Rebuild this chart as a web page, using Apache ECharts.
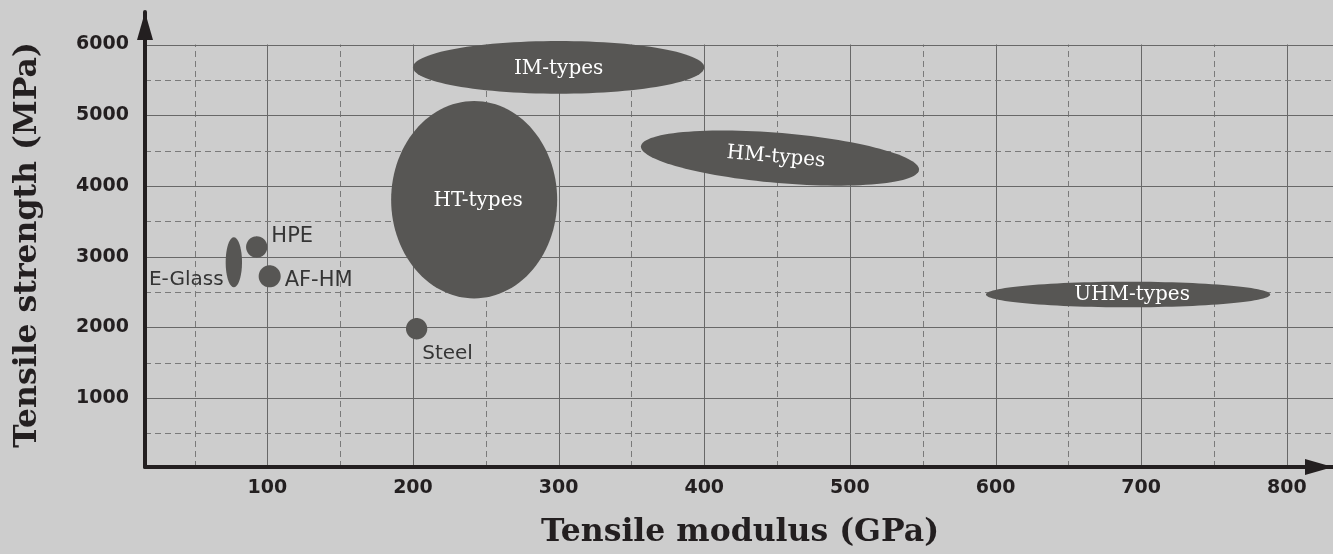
<!DOCTYPE html>
<html>
<head>
<meta charset="utf-8">
<script src="https://cdn.jsdelivr.net/npm/echarts@6/dist/echarts.min.js"></script>
<style>
html,body{margin:0;padding:0;background:#cdcdcd;}
#chart{width:1333px;height:554px;}
</style>
</head>
<body>
<div id="chart"></div>
<script>
// ---- data ----
const materials       = ['IM-types','HT-types','HM-types','UHM-types','E-Glass','HPE','AF-HM','Steel'];
const modulusCenter   = [300, 242, 452, 691, 77, 92.7, 101.6, 202.5];   // GPa
const strengthCenter  = [5677, 3805, 4394, 2464, 2920, 3136, 2721, 1980]; // MPa
const modulusHalf     = [100, 57, 95.8, 97.6, 5.6, 7.3, 7.55, 7.3];      // GPa
const strengthHalf    = [373, 1396, 354, 181, 353, 151, 156, 151];       // MPa
const tiltDeg         = [0, 0, 4.85, 0, 0, 0, 0, 0];
const xTickLabels     = [100, 200, 300, 400, 500, 600, 700, 800];
const yTickLabels     = [1000, 2000, 3000, 4000, 5000, 6000];
const xMinorGrid      = [50, 150, 250, 350, 450, 550, 650, 750];
const yMinorGrid      = [500, 1500, 2500, 3500, 4500, 5500];

// ---- styles ----
const labelStyle = {
  'IM-types':  {color:'#ffffff', font:'20px "DejaVu Serif"', align:'center', anchor:'center', dx:0,  dy:1},
  'HT-types':  {color:'#ffffff', font:'20px "DejaVu Serif"', align:'center', anchor:'center', dx:4,  dy:1},
  'HM-types':  {color:'#ffffff', font:'20px "DejaVu Serif"', align:'center', anchor:'center', dx:-4, dy:-1, rotate:true},
  'UHM-types': {color:'#ffffff', font:'20px "DejaVu Serif"', align:'center', anchor:'center', dx:4,  dy:0.5},
  'E-Glass':   {color:'#353535', font:'20px "DejaVu Sans"', align:'right', anchor:'left',  dx:-2, dy:18},
  'HPE':       {color:'#353535', font:'21px "DejaVu Sans"', align:'left',  anchor:'right', dx:4,  dy:-10},
  'AF-HM':     {color:'#353535', font:'21px "DejaVu Sans"', align:'left',  anchor:'right', dx:4,  dy:4},
  'Steel':     {color:'#353535', font:'20px "DejaVu Sans"', align:'left',  anchor:'center', dx:5.6, dy:24.6}
};
const SHAPE_FILL = '#575654';
const X_MIN = 16, X_MAX = 831.7, Y_MIN = 24, Y_MAX = 6460, GRID_TOP_VALUE = 6000;

const chart = echarts.init(document.getElementById('chart'));

const gridData = [];
xTickLabels.forEach(v => gridData.push({value:[v, 0], kind:'v', dash:false}));
xMinorGrid.forEach(v => gridData.push({value:[v, 0], kind:'v', dash:true}));
yTickLabels.forEach(v => gridData.push({value:[0, v], kind:'h', dash:false}));
yMinorGrid.forEach(v => gridData.push({value:[0, v], kind:'h', dash:true}));

const shapeData = materials.map((m, i) => ({
  name: m,
  value: [modulusCenter[i], strengthCenter[i], modulusHalf[i], strengthHalf[i], tiltDeg[i]]
}));

const axisLineStyle = {color:'#231f20', width:4};
const plain = v => String(v);

chart.setOption({
  backgroundColor:'#cdcdcd',
  animation:false,
  grid:{left:145, right:0, top:12, bottom:87},
  xAxis:{
    type:'value', min:X_MIN, max:X_MAX, z:10,
    axisLine:{show:true, lineStyle:axisLineStyle, symbol:['none','triangle'], symbolSize:[16,28], symbolOffset:[0,-14]},
    axisTick:{show:false},
    splitLine:{show:false},
    axisLabel:{customValues:xTickLabels, formatter:plain, margin:12, color:'#231f20', fontFamily:'DejaVu Sans', fontWeight:'bold', fontSize:19}
  },
  yAxis:{
    type:'value', min:Y_MIN, max:Y_MAX, z:10,
    axisLine:{show:true, lineStyle:axisLineStyle, symbol:['none','triangle'], symbolSize:[16,28], symbolOffset:[0,-14]},
    axisTick:{show:false},
    splitLine:{show:false},
    axisLabel:{customValues:yTickLabels, formatter:plain, margin:16, color:'#231f20', fontFamily:'DejaVu Sans', fontWeight:'bold', fontSize:19}
  },
  graphic:[
    {type:'text', x:740, y:533, z:20,
     style:{text:'Tensile modulus (GPa)', fill:'#231f20', font:'bold 31.5px "DejaVu Serif"', align:'center', verticalAlign:'middle'}},
    {type:'text', x:28, y:245, rotation:Math.PI/2, z:20,
     style:{text:'Tensile strength (MPa)', fill:'#231f20', font:'bold 31.5px "DejaVu Serif"', align:'center', verticalAlign:'middle'}}
  ],
  series:[
    {
      type:'custom', coordinateSystem:'cartesian2d', z:1, clip:false, silent:true,
      data:gridData,
      renderItem:function(params, api){
        const item = gridData[params.dataIndex];
        const style = {stroke: item.dash ? '#7a7a7a' : '#686868', lineWidth:1, lineDash: item.dash ? [6,4] : null};
        if (item.kind === 'v') {
          const p0 = api.coord([api.value(0), Y_MIN]);
          const p1 = api.coord([api.value(0), GRID_TOP_VALUE]);
          const x = Math.round(p0[0]) + 0.5;
          return {type:'line', shape:{x1:x, y1:p0[1], x2:x, y2:p1[1]}, style:style};
        } else {
          const p0 = api.coord([X_MIN, api.value(1)]);
          const p1 = api.coord([X_MAX, api.value(1)]);
          const y = Math.round(p0[1]) + 0.5;
          return {type:'line', shape:{x1:p0[0], y1:y, x2:p1[0], y2:y}, style:style};
        }
      }
    },
    {
      type:'custom', coordinateSystem:'cartesian2d', z:3, clip:false, silent:true,
      data:shapeData,
      renderItem:function(params, api){
        const name = materials[params.dataIndex];
        const cx = api.value(0), cy = api.value(1), hx = api.value(2), hy = api.value(3), tilt = api.value(4);
        const c = api.coord([cx, cy]);
        const a = Math.abs(api.coord([cx + hx, cy])[0] - c[0]);
        const b = Math.abs(api.coord([cx, cy + hy])[1] - c[1]);
        const th = tilt * Math.PI / 180;
        const pts = [];
        const N = 120;
        for (let k = 0; k < N; k++) {
          const t = 2 * Math.PI * k / N;
          const ex = a * Math.cos(t), ey = b * Math.sin(t);
          pts.push([c[0] + ex * Math.cos(th) - ey * Math.sin(th), c[1] + ex * Math.sin(th) + ey * Math.cos(th)]);
        }
        const ls = labelStyle[name];
        let ax = c[0];
        if (ls.anchor === 'left') ax = c[0] - a;
        if (ls.anchor === 'right') ax = c[0] + a;
        return {
          type:'group',
          children:[
            {type:'polygon', shape:{points:pts}, style:{fill:SHAPE_FILL}},
            {type:'text', x:ax + ls.dx, y:c[1] + ls.dy, rotation: ls.rotate ? -th : 0,
             style:{text:name, fill:ls.color, font:ls.font, align:ls.align, verticalAlign:'middle'}}
          ]
        };
      }
    }
  ]
});
</script>
</body>
</html>
